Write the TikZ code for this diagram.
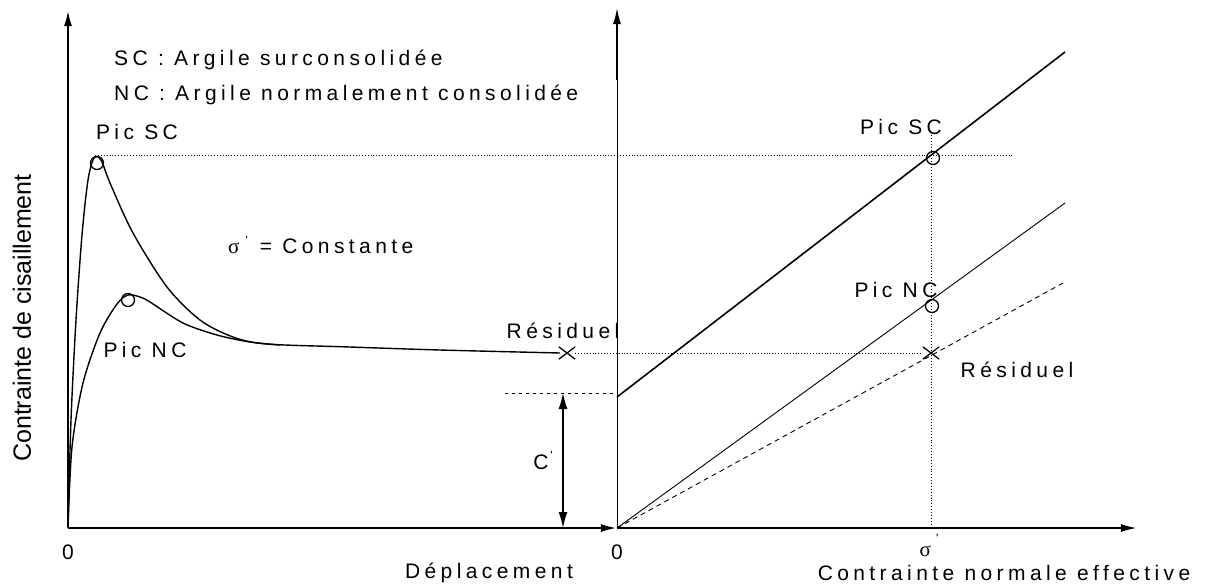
\documentclass[tikz,border=0pt]{standalone}
\usepackage{fontspec}
\setmainfont{Liberation Sans}
\newfontfamily\spaced[LetterSpace=21]{Liberation Sans}
\newfontfamily\grk{Liberation Serif}
\usetikzlibrary{arrows.meta,shapes.misc}

\tikzset{
  axis/.style={line width=2.4pt,-{Latex[length=16pt,width=8pt]}},
  lbl/.style={font=\spaced\fontsize{21}{25}\selectfont,inner sep=0pt},
  peak/.style={draw,circle,line width=1.3pt,minimum size=13pt,inner sep=0pt},
  resid/.style={draw,cross out,line width=1.3pt,minimum width=15pt,minimum height=11pt,inner sep=0pt},
  guide/.style={dotted,line width=0.9pt},
}

\begin{document}
\begin{tikzpicture}[x=1pt,y=-1pt]
    \useasboundingbox (0,0) rectangle (1212,587);
    % axes
    \coordinate (o1) at (68,528);
    \coordinate (o2) at (617,528);
    \draw[axis] (o1) -- (68,10);
    \draw[axis] (o1) -- (o2);
    \draw[line width=1pt] (o2) -- (617,80);
    \draw[axis,line width=1.6pt] (617,80) -- (617,8);
    \draw[axis,line width=2pt] (o2) -- (1137,528);
    \node[lbl] (zero1) at (68,552) {0};
    \node[lbl] (zero2) at (617,552) {0};
    \node[lbl] (depl) at (489,573) {Déplacement};
    \node[lbl] (cne) at (1004,573) {Contrainte normale effective};
    \node[font=\fontsize{25}{30}\selectfont,rotate=90,inner sep=0pt] (tau) at (22,318) {Contrainte de cisaillement};
    % legend
    \node[lbl,anchor=base west] (sc) at (114,65) {SC : Argile surconsolidée};
    \node[lbl,anchor=base west] (nc) at (114,100) {NC : Argile normalement consolidée};
    \node[lbl,anchor=west] (cst) at (228,245) {{\grk σ}\hspace{6pt}\raisebox{9pt}{\fontsize{12}{12}\selectfont '}\hspace{12pt}= Constante};
    % curves
    \draw[line width=1.4pt] plot[smooth] coordinates {(68,528) (71,420) (76,320) (82,235) (88,180) (94,158) (101,160) (110,183) (133,233) (167,287) (200,320) (233,337) (267,344) (350,347) (440,350) (560,353)};
    \draw[line width=1.4pt] plot[smooth] coordinates {(68,528) (72,447) (83,383) (100,333) (117,304) (128,295) (140,297) (150,302) (183,323) (217,335) (250,342) (280,345)};
    \node[peak] (psc) at (97,163) {};
    \node[peak] (pnc) at (128,300) {};
    \node[resid] (res1) at (567,353) {};
    \node[lbl] (lpsc) at (137,132) {Pic SC};
    \node[lbl] (lpnc) at (145,350) {Pic NC};
    \node[lbl] (lres1) at (563,331) {Résiduel};
    % C'
    \coordinate (c0) at (505,393);
    \coordinate (c1) at (617,393);
    \draw[dash pattern=on 3pt off 4pt,line width=1pt] (c0) -- (c1);
    \coordinate (ctop) at (563,393);
    \coordinate (cbot) at (563,528);
    \draw[line width=1.5pt,{Latex[length=16pt,width=9pt]}-{Latex[length=16pt,width=9pt]}] (ctop) -- (cbot);
    \node[lbl] (cc) at (543,460) {C\hspace{2pt}\raisebox{10pt}{\fontsize{12}{12}\selectfont '}};
    % envelopes
    \coordinate (i1) at (617,397);
    \coordinate (e1) at (1065,52);
    \coordinate (e2) at (1065,203);
    \coordinate (e3) at (1063,283);
    \draw[line width=1.6pt] (i1) -- (e1);
    \draw[line width=0.9pt] (o2) -- (e2);
    \draw[dash pattern=on 5pt off 4pt,line width=0.9pt] (o2) -- (e3);
    \node[peak] (qsc) at (933,158) {};
    \node[peak] (qnc) at (932,306) {};
    \node[resid] (res2) at (931,353) {};
    \node[lbl] (lqsc) at (901,127) {Pic SC};
    \node[lbl] (lqnc) at (896,290) {Pic NC};
    \node[lbl] (lres2) at (1017,370) {Résiduel};
    % guides
    \coordinate (g1) at (95,155);
    \coordinate (g2) at (1013,155);
    \draw[guide] (g1) -- (g2);
    \draw[guide] (res1) -- (res2);
    \coordinate (s1) at (931,135);
    \coordinate (s2) at (931,528);
    \draw[guide] (s1) -- (s2);
    \node[lbl,anchor=base] (sig) at (929,556) {{\grk σ}\hspace{5pt}\raisebox{14pt}{\fontsize{12}{12}\selectfont '}};
\end{tikzpicture}
\end{document}
